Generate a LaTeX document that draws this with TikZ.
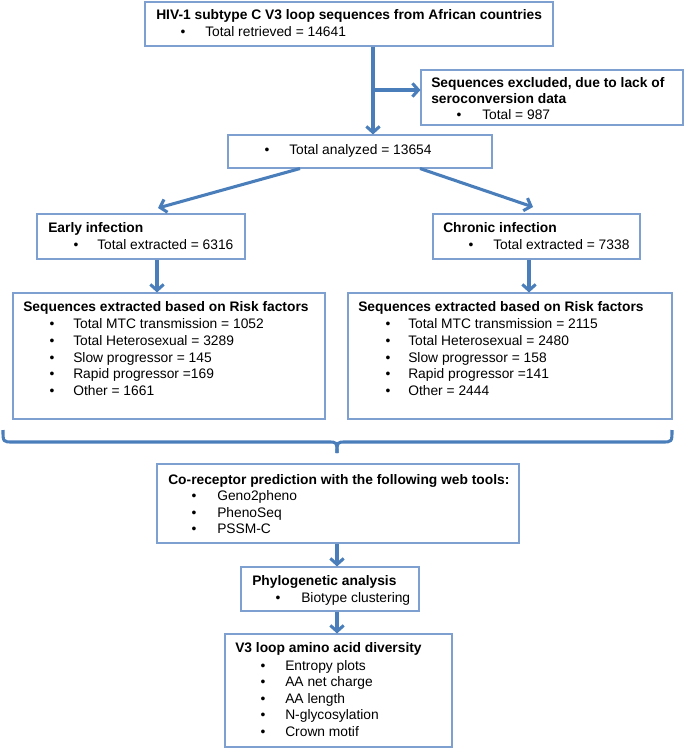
\documentclass[tikz,border=0pt]{standalone}
\usepackage{fontspec}
\setmainfont{Liberation Sans}
\usetikzlibrary{arrows.meta,fit}
\definecolor{boxc}{RGB}{125,160,208}
\definecolor{arrc}{RGB}{74,126,187}
\begin{document}
\begin{tikzpicture}[x=0.75pt,y=-0.75pt,
  box/.style={draw=boxc, line width=0.8pt, inner sep=0pt},
  arr/.style={draw=arrc, line width=2.3pt, -{Straight Barb[length=4.5pt,width=10pt]}},
  brc/.style={draw=arrc, line width=2.3pt},
  txt/.style={anchor=base west, inner sep=0pt, font=\fontsize{10.35}{12}\selectfont},
  hd/.style={txt, font=\fontsize{10.35}{12}\selectfont\bfseries},
  bul/.style={anchor=base, inner sep=0pt, font=\fontsize{10.35}{12}\selectfont}]
\useasboundingbox (0,0) rectangle (685,748);
% boxes
\node[box, fit={(145,2)(553,46)}] (b1) {};
\node[box, fit={(421,70)(683,125)}] (excl) {};
\node[box, fit={(228,135)(492,168)}] (anal) {};
\node[box, fit={(37,214)(245,259)}] (early) {};
\node[box, fit={(433,214)(640,259)}] (chron) {};
\node[box, fit={(13,293)(325,419)}] (riskL) {};
\node[box, fit={(348,293)(672,419)}] (riskR) {};
\node[box, fit={(157,464)(519,543)}] (co) {};
\node[box, fit={(241,567)(419,611)}] (phy) {};
\node[box, fit={(225,634)(452,747)}] (vbox) {};
% texts
\node[hd] (t1) at (156,20) {HIV-1 subtype C V3 loop sequences from African countries};
\node[bul] (t1b) at (183,37) {•};
\node[txt] (t1c) at (205,37) {Total retrieved = 14641};
\node[hd] (t2) at (431,88) {Sequences excluded, due to lack of};
\node[hd] (t2a) at (431,104) {seroconversion data};
\node[bul] (t2b) at (459,120) {•};
\node[txt] (t2c) at (482,120) {Total = 987};
\node[bul] (t3b) at (267,155) {•};
\node[txt] (t3c) at (289,155) {Total analyzed = 13654};
\node[hd] (t4) at (48,233) {Early infection};
\node[bul] (t4b) at (76,250) {•};
\node[txt] (t4c) at (97,250) {Total extracted = 6316};
\node[hd] (t5) at (443,233) {Chronic infection};
\node[bul] (t5b) at (471,250) {•};
\node[txt] (t5c) at (493,250) {Total extracted = 7338};
\node[hd] (t6) at (23,311) {Sequences extracted based on Risk factors};
\foreach \y/\s [count=\i] in {328/Total MTC transmission = 1052,345/Total Heterosexual = 3289,362/Slow progressor = 145,378/Rapid progressor =169,395/Other = 1661}{
  \node[bul] (itemLb\i) at (52,\y) {•};
  \node[txt] (itemL\i) at (73,\y) {\s};
}
\node[hd] (t7) at (358,311) {Sequences extracted based on Risk factors};
\foreach \y/\s [count=\i] in {328/Total MTC transmission = 2115,345/Total Heterosexual = 2480,362/Slow progressor = 158,378/Rapid progressor =141,395/Other = 2444}{
  \node[bul] (itemRb\i) at (388,\y) {•};
  \node[txt] (itemR\i) at (408,\y) {\s};
}
\node[hd] (t8) at (168,484) {Co-receptor prediction with the following web tools:};
\foreach \y/\s [count=\i] in {500/Geno2pheno,517/PhenoSeq,533/PSSM-C}{
  \node[bul] (itemCb\i) at (194,\y) {•};
  \node[txt] (itemC\i) at (217,\y) {\s};
}
\node[hd] (t9) at (252,585) {Phylogenetic analysis};
\node[bul] (t9b) at (278,602) {•};
\node[txt] (t9c) at (301,602) {Biotype clustering};
\node[hd] (t10) at (235,652) {V3 loop amino acid diversity};
\foreach \y/\s [count=\i] in {670/Entropy plots,686/AA net charge,703/AA length,719/N-glycosylation,736/Crown motif}{
  \node[bul] (itemVb\i) at (263,\y) {•};
  \node[txt] (itemV\i) at (285,\y) {\s};
}
% connectors
\coordinate (cx) at (373,0);
\coordinate (j) at (373,90);
\draw[brc] (b1.south -| cx) -- (j);
\draw[arr] (j) -- (anal.north -| cx);
\draw[arr] (j) -- (excl.west |- j);
\coordinate (aL) at (300,0);
\coordinate (aR) at (420,0);
\coordinate (eT) at (158,208);
\coordinate (cT) at (533,207);
\draw[arr] (anal.south -| aL) -- (eT);
\draw[arr] (anal.south -| aR) -- (cT);
\coordinate (ex) at (157,0);
\coordinate (chx) at (529,0);
\draw[arr] (early.south -| ex) -- (riskL.north -| ex);
\draw[arr] (chron.south -| chx) -- (riskR.north -| chx);
% brace
\coordinate (bl) at (3,430);
\coordinate (br) at (672,430);
\coordinate (bm) at (337,453);
\draw[brc] (bl) .. controls (3,442) .. (13,442) -- (328,442) .. controls (337,442) .. (bm);
\draw[brc] (bm) .. controls (337,442) .. (346,442) -- (662,442) .. controls (672,442) .. (br);
\coordinate (mx) at (337,0);
\draw[arr] (co.south -| mx) -- (phy.north -| mx);
\draw[arr] (phy.south -| mx) -- (vbox.north -| mx);
\end{tikzpicture}
\end{document}
